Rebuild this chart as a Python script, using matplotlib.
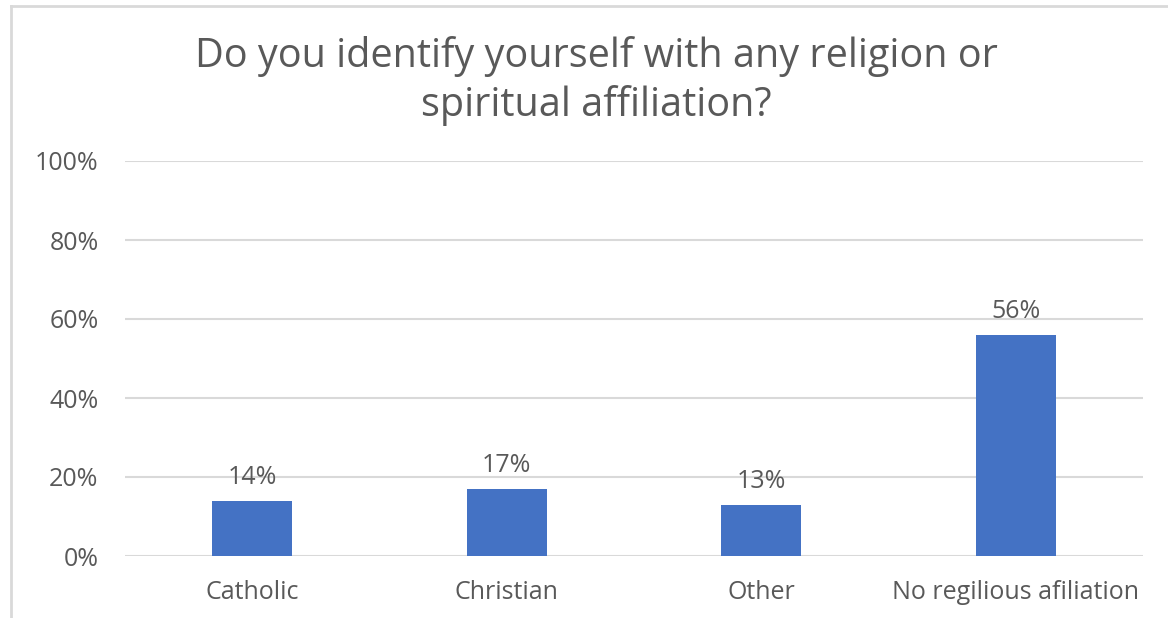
import matplotlib
matplotlib.use("Agg")
import matplotlib.pyplot as plt
from matplotlib.lines import Line2D
from matplotlib.ticker import FuncFormatter, MultipleLocator

categories = ["Catholic", "Christian", "Other", "No regilious afiliation"]
values = [14, 17, 13, 56]
title = "Do you identify yourself with any religion or\nspiritual affiliation?"

plt.rcParams['font.family'] = ['Open Sans', 'DejaVu Sans']
text_color = "#595959"
grid_color = "#d9d9d9"
bar_color = "#4472C4"

fig = plt.figure(figsize=(11.68, 6.18), dpi=100)
ax = fig.add_axes([125/1168, 1-556/618, (1143-125)/1168, (556-161)/618])

x = list(range(len(categories)))
bars = ax.bar(x, values, width=0.314, color=bar_color, zorder=3)
for xi, v in zip(x, values):
    ax.annotate(f"{v}%", (xi, v), xytext=(0, 8), textcoords="offset points",
                ha="center", va="bottom", fontsize=18, color=text_color, zorder=4)

ax.set_xlim(-0.5, len(categories) - 0.5)
ax.set_ylim(0, 100)
ax.yaxis.set_major_locator(MultipleLocator(20))
ax.yaxis.set_major_formatter(FuncFormatter(lambda v, p: f"{int(v)}%"))
ax.set_xticks(x)
ax.set_xticklabels(categories)
ax.tick_params(axis="y", length=0, pad=19, labelsize=18, labelcolor=text_color)
ax.tick_params(axis="x", length=0, pad=17, labelsize=18, labelcolor=text_color)
ax.grid(axis="y", color=grid_color, linewidth=1.5, zorder=0)
for s in ax.spines.values():
    s.set_visible(False)

fig.text(596/1168, 1-81/618, title, ha="center", va="center", fontsize=28.5,
         color=text_color, linespacing=1.27)

# chart border (left and top visible)
fig.add_artist(Line2D([10.5/1168, 10.5/1168], [0, 1-6/618], color=grid_color, linewidth=2,
                      transform=fig.transFigure))
fig.add_artist(Line2D([10.5/1168, 1], [1-6/618, 1-6/618], color=grid_color, linewidth=2,
                      transform=fig.transFigure))

fig.savefig("out.png", dpi=100)
